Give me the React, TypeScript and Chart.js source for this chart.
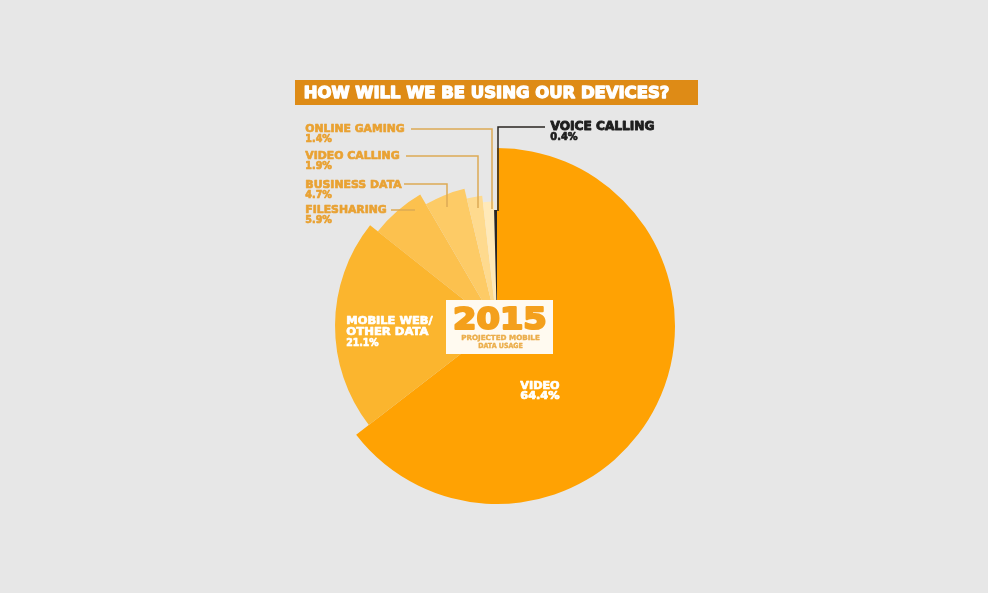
import React, { useEffect, useRef } from "react";
import { Chart, registerables } from "chart.js";

Chart.register(...registerables);

// ---- data ----
const categories = [
  "VIDEO",
  "MOBILE WEB/ OTHER DATA",
  "FILESHARING",
  "BUSINESS DATA",
  "VIDEO CALLING",
  "ONLINE GAMING",
  "VOICE CALLING",
];
const shares = [64.4, 21.1, 5.9, 4.7, 1.9, 1.4, 0.4];
const shareLabels = ["64.4%", "21.1%", "5.9%", "4.7%", "1.9%", "1.4%", "0.4%"];
const chartTitle = "HOW WILL WE BE USING OUR DEVICES?";
const centerYear = "2015";
const centerCaption = ["PROJECTED MOBILE", "DATA USAGE"];

// ---- styles ----
const sliceColors = ["#FFA203", "#FBB52E", "#FCC14E", "#FDCB66", "#FEDA8E", "#FFE9B8", "#2A2622"];
const radiusRatio = [1, 0.91, 0.855, 0.792, 0.736, 0.70, 0.652];
const BG = "#E7E7E7";
const LABEL_ORANGE = "#E9A233";
const LEADER = "#DDAA55";

export default function App() {
  const ref = useRef<HTMLCanvasElement>(null);

  useEffect(() => {
    const canvas = ref.current!;

    const drawFit = (
      ctx: CanvasRenderingContext2D,
      text: string,
      x: number,
      y: number,
      font: string,
      color: string,
      width?: number,
      heavy = 0.7
    ) => {
      ctx.save();
      ctx.font = font;
      ctx.fillStyle = color;
      ctx.strokeStyle = color;
      ctx.lineJoin = "round";
      ctx.textBaseline = "top";
      ctx.textAlign = "left";
      const w = ctx.measureText(text).width + heavy;
      const s = width ? width / w : 1;
      ctx.translate(x + heavy / 2, y);
      ctx.scale(s, 1);
      ctx.fillText(text, 0, 0);
      if (heavy > 0) {
        ctx.lineWidth = heavy;
        ctx.strokeText(text, 0, 0);
      }
      ctx.restore();
    };

    const line = (ctx: CanvasRenderingContext2D, pts: number[][], color: string) => {
      ctx.save();
      ctx.strokeStyle = color;
      ctx.lineWidth = 1.5;
      ctx.beginPath();
      pts.forEach((p, i) => (i === 0 ? ctx.moveTo(p[0], p[1]) : ctx.lineTo(p[0], p[1])));
      ctx.stroke();
      ctx.restore();
    };

    const decor = {
      id: "decor",
      beforeDraw(chart: any) {
        const ctx = chart.ctx as CanvasRenderingContext2D;
        ctx.save();
        ctx.fillStyle = BG;
        ctx.fillRect(0, 0, chart.width, chart.height);
        ctx.restore();
      },
      afterDatasetsUpdate(chart: any) {
        const meta = chart.getDatasetMeta(0);
        meta.data.forEach((arc: any, i: number) => {
          arc.outerRadius = arc.outerRadius * radiusRatio[i];
        });
      },
      afterDraw(chart: any) {
        const ctx = chart.ctx as CanvasRenderingContext2D;
        const F = "DejaVu Sans";

        // title bar
        ctx.save();
        ctx.fillStyle = "#DE8B16";
        ctx.fillRect(295, 80, 403, 25);
        ctx.restore();
        drawFit(ctx, chartTitle, 303, 86, `bold 16px "${F}"`, "#FFFFFF", 367, 1.3);

        // leader lines
        line(ctx, [[411, 129], [492, 129], [492, 209]], LEADER);
        line(ctx, [[406, 156], [478, 156], [478, 208]], LEADER);
        line(ctx, [[404, 184], [447, 184], [447, 207]], LEADER);
        line(ctx, [[391, 210], [415, 210]], LEADER);
        line(ctx, [[545, 127], [498, 127], [498, 211]], "#2A2622");

        // small slice labels (left column)
        const nameFont = `bold 11px "${F}"`;
        const pctFont = `bold 10px "${F}"`;
        const left = [
          { i: 5, y: 124, w: 100 },
          { i: 4, y: 151, w: 95 },
          { i: 3, y: 180, w: 97 },
          { i: 2, y: 205, w: 82 },
        ];
        left.forEach((l) => {
          drawFit(ctx, categories[l.i], 305, l.y, nameFont, LABEL_ORANGE, l.w);
          drawFit(ctx, shareLabels[l.i], 305, l.y + 10, pctFont, LABEL_ORANGE, shareLabels[l.i].length * 6.8);
        });

        // voice calling
        drawFit(ctx, categories[6], 550, 121, `bold 12px "${F}"`, "#1E1E1E", 105, 0.9);
        drawFit(ctx, shareLabels[6], 550, 132, pctFont, "#1E1E1E", 28);

        // mobile web label (white, inside slice)
        const mw = categories[1].split(" ");
        drawFit(ctx, mw[0] + " " + mw[1], 346, 316, nameFont, "#FFFFFF", 87);
        drawFit(ctx, mw[2] + " " + mw[3], 346, 327, nameFont, "#FFFFFF", 83);
        drawFit(ctx, shareLabels[1], 346, 338, pctFont, "#FFFFFF", 33);

        // video label
        drawFit(ctx, categories[0], 520, 381, `bold 10px "${F}"`, "#FFFFFF", 40);
        drawFit(ctx, shareLabels[0], 520, 391, pctFont, "#FFFFFF", 40);

        // center box
        ctx.save();
        ctx.fillStyle = "#FFFAF0";
        ctx.fillRect(446, 300, 107, 54);
        ctx.restore();
        drawFit(ctx, centerYear, 452, 305, `bold 31px "${F}"`, "#F4A01C", 96, 2.2);
        drawFit(ctx, centerCaption[0], 461, 335, `bold 7px "${F}"`, "#EBAE4C", 79, 0.4);
        drawFit(ctx, centerCaption[1], 478, 343, `bold 7px "${F}"`, "#EBAE4C", 45, 0.4);
      },
    };

    const chart = new Chart(canvas, {
      type: "pie",
      data: {
        labels: categories,
        datasets: [
          {
            data: shares,
            backgroundColor: sliceColors,
            borderWidth: 0,
            hoverOffset: 0,
          },
        ],
      },
      options: {
        responsive: false,
        animation: false,
        events: [],
        layout: { padding: { left: 319, right: 313, top: 148, bottom: 89 } },
        plugins: {
          legend: { display: false },
          tooltip: { enabled: false },
          title: { display: false },
        },
      },
      plugins: [decor],
    });

    return () => chart.destroy();
  }, []);

  return (
    <div style={{ position: "fixed", left: 0, top: 0, width: 988, height: 593, background: BG }}>
      <canvas ref={ref} width={988} height={593} style={{ display: "block" }} />
    </div>
  );
}
